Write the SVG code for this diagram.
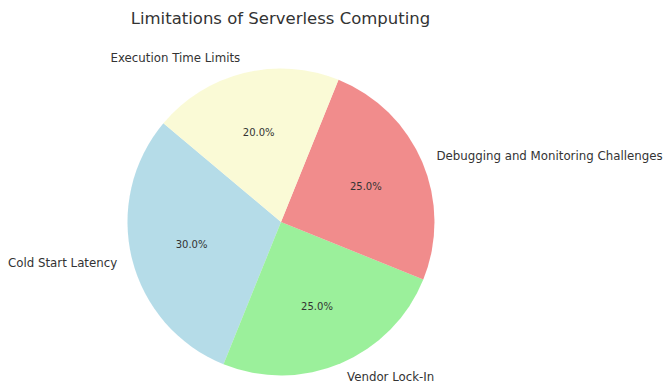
<svg xmlns="http://www.w3.org/2000/svg" width="663" height="387" viewBox="0 0 663 387">
<style>
text{font-family:"DejaVu Sans","Liberation Sans",sans-serif;fill:#333;dominant-baseline:central}
.lbl{font-size:11.8px}
.pct{font-size:10px;text-anchor:middle}
.title{font-size:16.5px;text-anchor:middle}
path{fill-opacity:0.9}
</style>
<rect width="663" height="387" fill="#fff"/>
<text class="title" x="280.5" y="18">Limitations of Serverless Computing</text>
<g id="slice-cold">
<path d="M281 222 L163.4 123.3 A153.5 153.5 0 0 0 223.5 364.3 Z" fill="#add8e6"/>
<text class="pct" x="191.6" y="244.3">30.0%</text>
<text class="lbl" x="117.2" y="262.8" text-anchor="end">Cold Start Latency</text>
</g>
<g id="slice-vendor">
<path d="M281 222 L223.5 364.3 A153.5 153.5 0 0 0 423.3 279.5 Z" fill="#90ee90"/>
<text class="pct" x="317" y="306.8">25.0%</text>
<text class="lbl" x="347" y="377.4" text-anchor="start">Vendor Lock-In</text>
</g>
<g id="slice-debug">
<path d="M281 222 L423.3 279.5 A153.5 153.5 0 0 0 338.5 79.7 Z" fill="#f08080"/>
<text class="pct" x="365.8" y="186">25.0%</text>
<text class="lbl" x="436.4" y="156" text-anchor="start">Debugging and Monitoring Challenges</text>
</g>
<g id="slice-exec">
<path d="M281 222 L338.5 79.7 A153.5 153.5 0 0 0 163.4 123.3 Z" fill="#fafad2"/>
<text class="pct" x="258.7" y="132.6">20.0%</text>
<text class="lbl" x="240.2" y="58.2" text-anchor="end">Execution Time Limits</text>
</g>
</svg>
